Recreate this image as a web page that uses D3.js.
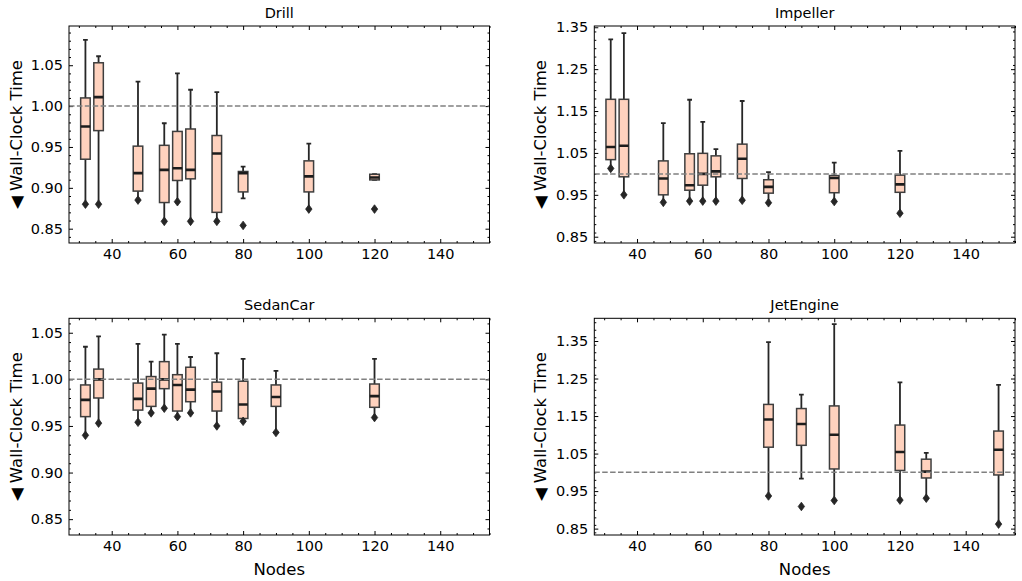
<!DOCTYPE html>
<html><head><meta charset="utf-8">
<script src="https://cdn.jsdelivr.net/npm/d3@7"></script>
<style>
html,body{margin:0;padding:0;background:#fff;}
svg text{font-family:"DejaVu Sans",sans-serif;fill:#000;}
</style></head>
<body><svg id="c" width="1022" height="581"></svg>
<script>
// ---------- data ----------
const xTicks = [40, 60, 80, 100, 120, 140];
const xDomain = [27, 155];

const drillNodes   = [32, 36, 48, 56, 60, 64, 72, 80, 100, 120];
const drillHi      = [1.081, 1.061, 1.030, 0.979, 1.040, 1.020, 1.017, 0.926, 0.954, 0.9166];
const drillQ3      = [1.010, 1.053, 0.951, 0.952, 0.969, 0.972, 0.964, 0.920, 0.933, 0.9166];
const drillMed     = [0.975, 1.011, 0.918, 0.922, 0.924, 0.922, 0.942, 0.918, 0.914, 0.9126];
const drillQ1      = [0.935, 0.970, 0.896, 0.882, 0.909, 0.911, 0.870, 0.895, 0.895, 0.9097];
const drillLo      = [0.880, 0.880, 0.885, 0.859, 0.883, 0.859, 0.859, 0.887, 0.874, 0.9097];
const drillFlier   = [0.880, 0.880, 0.885, 0.859, 0.883, 0.859, 0.859, 0.854, 0.874, 0.874];
const drillYTicks  = [0.85, 0.90, 0.95, 1.00, 1.05];

const impNodes     = [32, 36, 48, 56, 60, 64, 72, 80, 100, 120];
const impHi        = [1.321, 1.336, 1.121, 1.177, 1.124, 1.059, 1.174, 1.004, 1.027, 1.055];
const impQ3        = [1.178, 1.178, 1.031, 1.048, 1.049, 1.043, 1.071, 0.986, 0.996, 0.997];
const impMed       = [1.064, 1.067, 0.989, 0.973, 1.000, 1.006, 1.036, 0.969, 0.990, 0.975];
const impQ1        = [1.034, 0.993, 0.950, 0.961, 0.973, 0.993, 0.989, 0.954, 0.955, 0.956];
const impLo        = [1.013, 0.950, 0.932, 0.935, 0.935, 0.935, 0.937, 0.931, 0.934, 0.906];
const impFlier     = [1.013, 0.950, 0.932, 0.935, 0.935, 0.935, 0.937, 0.931, 0.934, 0.906];
const impYTicks    = [0.85, 0.95, 1.05, 1.15, 1.25, 1.35];

const sedanNodes   = [32, 36, 48, 52, 56, 60, 64, 72, 80, 90, 120];
const sedanHi      = [1.035, 1.046, 1.038, 1.019, 1.048, 1.038, 1.024, 1.028, 1.022, 1.009, 1.022];
const sedanQ3      = [0.994, 1.011, 0.996, 1.003, 1.019, 1.005, 1.013, 0.997, 0.998, 0.994, 0.995];
const sedanMed     = [0.978, 1.000, 0.979, 0.990, 1.000, 0.994, 0.989, 0.987, 0.973, 0.981, 0.982];
const sedanQ1      = [0.960, 0.980, 0.967, 0.971, 0.990, 0.966, 0.976, 0.966, 0.958, 0.971, 0.970];
const sedanLo      = [0.940, 0.953, 0.954, 0.964, 0.969, 0.960, 0.964, 0.950, 0.955, 0.943, 0.959];
const sedanFlier   = [0.940, 0.953, 0.954, 0.964, 0.969, 0.960, 0.964, 0.950, 0.955, 0.943, 0.959];
const sedanYTicks  = [0.85, 0.90, 0.95, 1.00, 1.05];

const jetNodes     = [80, 90, 100, 120, 128, 150];
const jetHi        = [1.347, 1.207, 1.395, 1.240, 1.052, 1.233];
const jetQ3        = [1.181, 1.170, 1.177, 1.126, 1.035, 1.110];
const jetMed       = [1.141, 1.129, 1.100, 1.054, 1.002, 1.060];
const jetQ1        = [1.067, 1.072, 1.009, 1.005, 0.985, 0.993];
const jetLo        = [0.937, 0.983, 0.925, 0.926, 0.931, 0.862];
const jetFlier     = [0.937, 0.909, 0.925, 0.926, 0.931, 0.862];
const jetYTicks    = [0.85, 0.95, 1.05, 1.15, 1.25, 1.35];

const refLine = 1.0;
const boxWidth = 2.9; // in node units

function rows(nodes, hi, q3, med, q1, lo, fl) {
  return nodes.map((n, i) => ({n, hi: hi[i], q3: q3[i], med: med[i], q1: q1[i], lo: lo[i], fl: fl[i]}));
}

const panels = [
  {title: "Drill", data: rows(drillNodes, drillHi, drillQ3, drillMed, drillQ1, drillLo, drillFlier),
   yDomain: [0.8325, 1.098], yTicks: drillYTicks, minorStep: 0.01, col: 0, row: 0},
  {title: "Impeller", data: rows(impNodes, impHi, impQ3, impMed, impQ1, impLo, impFlier),
   yDomain: [0.835, 1.353], yTicks: impYTicks, minorStep: 0.02, col: 1, row: 0},
  {title: "SedanCar", data: rows(sedanNodes, sedanHi, sedanQ3, sedanMed, sedanQ1, sedanLo, sedanFlier),
   yDomain: [0.833, 1.0655], yTicks: sedanYTicks, minorStep: 0.01, col: 0, row: 1},
  {title: "JetEngine", data: rows(jetNodes, jetHi, jetQ3, jetMed, jetQ1, jetLo, jetFlier),
   yDomain: [0.833, 1.4105], yTicks: jetYTicks, minorStep: 0.02, col: 1, row: 1},
];

// ---------- layout ----------
const colX = [[69, 489.5], [594.3, 1015]];
const rowY = [[26, 243], [318.3, 535]];
const fill = "#ffd2be", edge = "#3e3e3e", dark = "#262626";

const svg = d3.select("#c");

panels.forEach(p => {
  const [x0, x1] = colX[p.col];
  const [y0, y1] = rowY[p.row];
  const x = d3.scaleLinear().domain(xDomain).range([x0, x1]);
  const y = d3.scaleLinear().domain(p.yDomain).range([y1, y0]);
  const g = svg.append("g");

  // clip
  const cid = "clip" + p.col + p.row;
  svg.append("clipPath").attr("id", cid).append("rect")
     .attr("x", x0).attr("y", y0).attr("width", x1 - x0).attr("height", y1 - y0);

  // minor ticks
  const xMinor = d3.range(30, 156, 5).filter(v => v % 20 !== 0);
  const lo = Math.ceil(p.yDomain[0] / p.minorStep - 1e-6), hi = Math.floor(p.yDomain[1] / p.minorStep + 1e-6);
  const yMinor = d3.range(lo, hi + 1).map(k => +(k * p.minorStep).toFixed(3))
     .filter(v => !p.yTicks.some(t => Math.abs(t - v) < 1e-6));

  const fmtY = d3.format(".2f");
  const addAxis = (axis, tr, labels) => {
    const a = g.append("g").attr("transform", tr).call(axis);
    a.select(".domain").remove();
    a.selectAll(".tick line").attr("stroke", "#000").attr("stroke-width", 1);
    a.selectAll("text").style("font-size", "14.5px").attr("fill", "#000");
    if (!labels) a.selectAll("text").remove();
    return a;
  };
  // bottom / top x
  addAxis(d3.axisBottom(x).tickValues(xTicks).tickSize(-4).tickPadding(5.5).tickFormat(d3.format("d")),
          `translate(0,${y1})`, true);
  addAxis(d3.axisBottom(x).tickValues(xMinor).tickSize(-2).tickFormat(""), `translate(0,${y1})`, false);
  addAxis(d3.axisTop(x).tickValues(xTicks).tickSize(-4).tickFormat(""), `translate(0,${y0})`, false);
  addAxis(d3.axisTop(x).tickValues(xMinor).tickSize(-2).tickFormat(""), `translate(0,${y0})`, false);
  // left / right y
  addAxis(d3.axisLeft(y).tickValues(p.yTicks).tickSize(-4).tickPadding(6).tickFormat(fmtY),
          `translate(${x0},0)`, true);
  addAxis(d3.axisLeft(y).tickValues(yMinor).tickSize(-2).tickFormat(""), `translate(${x0},0)`, false);
  addAxis(d3.axisRight(y).tickValues(p.yTicks).tickSize(-4).tickFormat(""), `translate(${x1},0)`, false);
  addAxis(d3.axisRight(y).tickValues(yMinor).tickSize(-2).tickFormat(""), `translate(${x1},0)`, false);

  const plot = g.append("g").attr("clip-path", `url(#${cid})`);
  const bw = d => x(d.n + boxWidth / 2) - x(d.n - boxWidth / 2);
  const cw = d => bw(d) / 2;

  const b = plot.selectAll("g.box").data(p.data).join("g").attr("class", "box");
  // whiskers
  b.append("line").attr("x1", d => x(d.n)).attr("x2", d => x(d.n))
    .attr("y1", d => y(d.q3)).attr("y2", d => y(d.hi)).attr("stroke", dark).attr("stroke-width", 1.8);
  b.append("line").attr("x1", d => x(d.n)).attr("x2", d => x(d.n))
    .attr("y1", d => y(d.q1)).attr("y2", d => y(d.lo)).attr("stroke", dark).attr("stroke-width", 1.8);
  // caps
  b.append("line").attr("x1", d => x(d.n) - cw(d) / 2).attr("x2", d => x(d.n) + cw(d) / 2)
    .attr("y1", d => y(d.hi)).attr("y2", d => y(d.hi)).attr("stroke", dark).attr("stroke-width", 1.8);
  b.append("line").attr("x1", d => x(d.n) - cw(d) / 2).attr("x2", d => x(d.n) + cw(d) / 2)
    .attr("y1", d => y(d.lo)).attr("y2", d => y(d.lo)).attr("stroke", dark).attr("stroke-width", 1.8);
  // box
  b.append("rect").attr("x", d => x(d.n - boxWidth / 2)).attr("width", bw)
    .attr("y", d => y(d.q3)).attr("height", d => Math.max(0.5, y(d.q1) - y(d.q3)))
    .attr("fill", fill).attr("stroke", edge).attr("stroke-width", 1.5);
  // median
  b.append("line").attr("x1", d => x(d.n - boxWidth / 2)).attr("x2", d => x(d.n + boxWidth / 2))
    .attr("y1", d => y(d.med)).attr("y2", d => y(d.med)).attr("stroke", "#1c1c1c").attr("stroke-width", 2.6);
  // flier (thin diamond)
  b.append("path")
    .attr("d", d => {
      const cx = x(d.n), cy = y(d.fl);
      return `M${cx},${cy - 4.3}L${cx + 3.2},${cy}L${cx},${cy + 4.3}L${cx - 3.2},${cy}Z`;
    })
    .attr("fill", dark).attr("stroke", dark).attr("stroke-width", 0.8);

  // reference line
  plot.append("line").attr("x1", x0).attr("x2", x1).attr("y1", y(refLine)).attr("y2", y(refLine))
    .attr("stroke", "#808080").attr("stroke-width", 1.5).attr("stroke-dasharray", "5.5,2.4");

  // frame
  g.append("rect").attr("x", x0).attr("y", y0).attr("width", x1 - x0).attr("height", y1 - y0)
    .attr("fill", "none").attr("stroke", "#000").attr("stroke-width", 1);

  // title
  g.append("text").attr("x", (x0 + x1) / 2).attr("y", y0 - 8.5).attr("text-anchor", "middle")
    .style("font-size", "14.5px").text(p.title);

  // y label
  const lx = p.col === 0 ? 16 : 540;
  g.append("text").attr("transform", `translate(${lx},${(y0 + y1) / 2}) rotate(-90)`)
    .attr("text-anchor", "middle").attr("dominant-baseline", "central")
    .style("font-size", "16.5px").text("\u25C0 Wall-Clock Time");

  // x label
  if (p.row === 1) {
    g.append("text").attr("x", (x0 + x1) / 2).attr("y", 575).attr("text-anchor", "middle")
      .style("font-size", "16.5px").text("Nodes");
  }
});
</script></body></html>
